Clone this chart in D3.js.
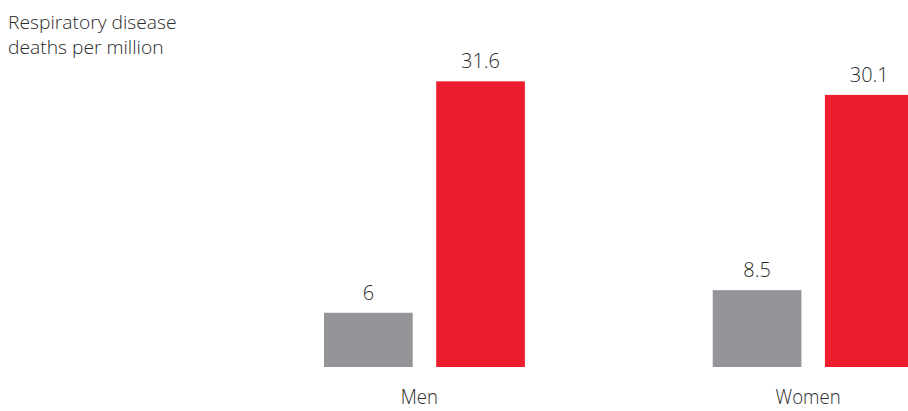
<!DOCTYPE html>
<html><head><meta charset="utf-8">
<script src="https://cdn.jsdelivr.net/npm/d3@7"></script>
<style>
html,body{margin:0;padding:0;background:#fff;}
text{font-family:"Open Sans","Noto Sans",sans-serif;fill:#2a2a2a;font-weight:300;}
</style></head>
<body><svg id="c" width="908" height="411"></svg>
<script>
const categories = ["Men", "Women"];
const seriesKeys = ["grey", "red"];
const greyValues = [6, 8.5];
const redValues = [31.6, 30.1];
const valueLabels = [["6", "31.6"], ["8.5", "30.1"]];
const titleLines = ["Respiratory disease", "deaths per million"];
const colors = {grey: "#939598", red: "#ed1c2e"};

const svg = d3.select("#c");
const baseline = 367;
const x0 = d3.scaleBand().domain(categories).range([324, 913.6]).paddingInner(0.4832).paddingOuter(0);
const x1 = d3.scaleBand().domain(seriesKeys).range([0, x0.bandwidth()]).paddingInner(0.2094).paddingOuter(0);
const y = d3.scaleLinear().domain([0, 35]).range([baseline, baseline - 35 * 9.04]);

const rows = categories.map((c, i) => ({cat: c, vals: [
  {key: "grey", v: greyValues[i], lab: valueLabels[i][0]},
  {key: "red", v: redValues[i], lab: valueLabels[i][1]}]}));

const g = svg.selectAll("g.grp").data(rows).join("g").attr("class", "grp")
  .attr("transform", d => `translate(${x0(d.cat)},0)`);
g.selectAll("rect").data(d => d.vals).join("rect")
  .attr("x", d => x1(d.key)).attr("width", x1.bandwidth())
  .attr("y", d => y(d.v)).attr("height", d => y(0) - y(d.v))
  .attr("fill", d => colors[d.key]);
g.selectAll("text.val").data(d => d.vals).join("text").attr("class", "val")
  .attr("transform", d => `translate(${x1(d.key) + x1.bandwidth() / 2},${y(d.v) - 13}) scale(0.95,1)`)
  .attr("text-anchor", "middle").attr("font-size", 21).text(d => d.lab);

svg.selectAll("text.cat").data(categories).join("text").attr("class", "cat")
  .attr("transform", d => `translate(${x0(d) + x0.bandwidth() / 2 - 5},404) scale(0.93,1)`)
  .attr("text-anchor", "middle").attr("font-size", 20).text(d => d);

svg.selectAll("text.title").data(titleLines).join("text").attr("class", "title")
  .attr("transform", (d, i) => `translate(8,${29 + i * 24.5}) scale(1.07,1)`)
  .attr("font-size", 18).text(d => d);
</script></body></html>
